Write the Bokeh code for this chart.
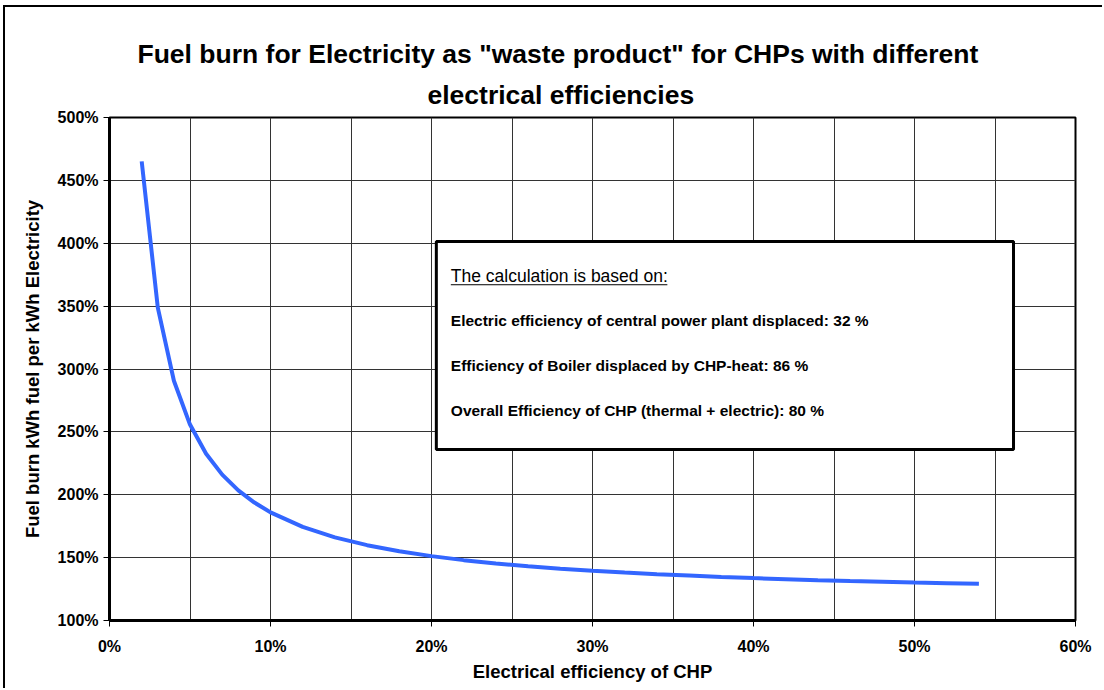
from bokeh.plotting import figure
from bokeh.models import Range1d, FixedTicker, PrintfTickFormatter, BoxAnnotation, Label, Title
from bokeh.embed import file_html
from bokeh.resources import INLINE

# Data
efficiency_pct = [2, 3, 4, 5, 6, 7, 8, 9, 10, 12, 14, 16, 18, 20, 22, 24, 26, 28, 30,
                  32, 34, 36, 38, 40, 42, 44, 46, 48, 50, 52, 54]
fuel_burn_pct = [465.1, 348.8, 290.7, 255.8, 232.6, 216.0, 203.5, 193.8, 186.0, 174.4,
                 166.1, 159.9, 155.0, 151.2, 148.0, 145.4, 143.1, 141.2, 139.5, 138.1,
                 136.8, 135.7, 134.6, 133.7, 132.9, 132.1, 131.4, 130.8, 130.2, 129.7, 129.2]
x_ticks = [0, 10, 20, 30, 40, 50, 60]
x_grid = [0, 5, 10, 15, 20, 25, 30, 35, 40, 45, 50, 55, 60]
y_ticks = [100, 150, 200, 250, 300, 350, 400, 450, 500]

title_lines = ['Fuel burn for Electricity as "waste product" for CHPs with different',
               'electrical efficiencies']
box_heading = "The calculation is based on:"
box_lines = ["Electric efficiency of central power plant displaced: 32 %",
             "Efficiency of Boiler displaced by CHP-heat:  86 %",
             "Overall Efficiency of CHP (thermal + electric):  80 %"]

FONT = "Liberation Sans"

# page frame offsets (outer black border drawn with a CSS shadow)
OX, OY = 5, 7

p = figure(width=1104 - OX, height=690 - OY, output_backend="svg", toolbar_location=None,
           x_range=Range1d(0, 60), y_range=Range1d(100, 500),
           min_border_left=109 - OX, min_border_right=29,
           min_border_top=117 - OY, min_border_bottom=70)
p.styles = {"margin-left": "5px", "margin-top": "7px",
            "box-shadow": "-2px -2px 0px 0px black"}
p.background_fill_color = "white"
p.border_fill_color = "white"
p.outline_line_color = "black"
p.outline_line_width = 2

# titles
p.title.text = title_lines[0]
p.title.align = "left"
p.title.offset = 28
p.title.standoff = 2
p.title.text_font = FONT
p.title.text_font_style = "bold"
p.title.text_font_size = "26.5px"
p.title.text_color = "black"
t2 = Title(text=title_lines[1], align="left", offset=318, standoff=16, text_font=FONT,
           text_font_style="bold", text_font_size="26.5px", text_color="black")
p.add_layout(t2, "above")

# grid
p.xgrid.ticker = FixedTicker(ticks=x_grid)
p.ygrid.ticker = FixedTicker(ticks=y_ticks)
for g in (p.xgrid, p.ygrid):
    g.grid_line_color = "#333333"
    g.grid_line_width = 1

# axes
p.xaxis.ticker = FixedTicker(ticks=x_ticks)
p.yaxis.ticker = FixedTicker(ticks=y_ticks)
for ax in (p.xaxis, p.yaxis):
    ax.formatter = PrintfTickFormatter(format="%d%%")
    ax.axis_line_color = "black"
    ax.axis_line_width = 3
    ax.major_tick_line_color = "black"
    ax.major_tick_line_width = 1
    ax.major_tick_out = 6
    ax.major_tick_in = 0
    ax.minor_tick_line_color = None
    ax.major_label_text_font = FONT
    ax.major_label_text_font_style = "bold"
    ax.major_label_text_font_size = "16px"
    ax.major_label_text_color = "black"
    ax.axis_label_text_font = FONT
    ax.axis_label_text_font_style = "bold"
    ax.axis_label_text_font_size = "18.5px"
    ax.axis_label_text_color = "black"

p.xaxis.axis_label = "Electrical efficiency of CHP"
p.xaxis.major_label_standoff = 11
p.xaxis.axis_label_standoff = 3
p.yaxis.axis_label = "Fuel burn kWh fuel per kWh Electricity"
p.yaxis.major_label_standoff = 5
p.yaxis.axis_label_standoff = 12

# curve
p.line(efficiency_pct, fuel_burn_pct, line_color="#3366FF", line_width=4)

# info box
p.add_layout(BoxAnnotation(left=20.3, right=56.15, top=401.4, bottom=236,
                           fill_color="white", fill_alpha=1.0,
                           line_color="black", line_alpha=1.0, line_width=3))
p.add_layout(Label(x=21.2, y=373.6, text=box_heading, text_font=FONT,
                   text_font_size="17.5px", text_baseline="middle", text_color="black"))
p.segment(x0=[21.2], y0=[367.0], x1=[34.65], y1=[367.0], line_color="black",
          line_width=1, level="overlay")
for txt, yy in zip(box_lines, [338.6, 302.8, 267.0]):
    p.add_layout(Label(x=21.2, y=yy, text=txt, text_font=FONT, text_font_style="bold",
                       text_font_size="15.5px", text_baseline="middle", text_color="black"))

open("out.html", "w").write(file_html(p, INLINE))
